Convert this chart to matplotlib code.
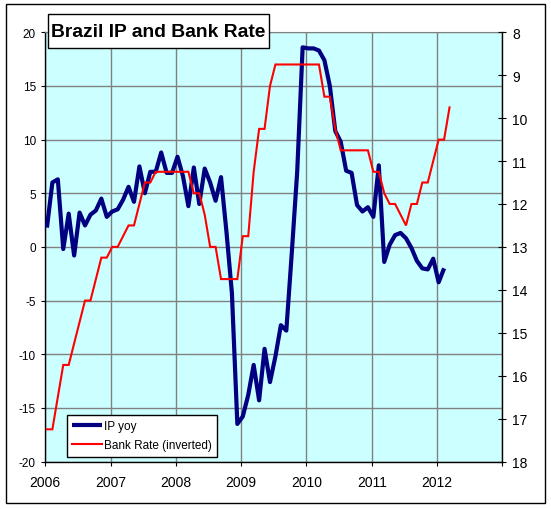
import matplotlib
matplotlib.use('Agg')
import matplotlib.pyplot as plt
from matplotlib.patches import Rectangle

plt.rcParams['font.family'] = ['Liberation Sans', 'DejaVu Sans']
plt.rcParams['axes.unicode_minus'] = False

# ---- data (monthly, Jan 2006 onwards) ----
start_year = 2006
ip_yoy = [
    1.8, 6.0, 6.3, -0.2, 3.1, -0.8, 3.2, 2.0, 3.0, 3.4, 4.5, 2.8,          # 2006
    3.3, 3.5, 4.4, 5.6, 4.2, 7.5, 5.0, 7.0, 7.0, 8.8, 6.9, 6.9,            # 2007
    8.4, 6.6, 3.8, 7.4, 4.0, 7.3, 6.0, 4.3, 6.5, 1.4, -4.3, -16.5,         # 2008
    -15.8, -13.8, -11.0, -14.3, -9.5, -12.6, -10.2, -7.3, -7.8, -0.6, 7.0, 18.6,  # 2009
    18.5, 18.5, 18.3, 17.4, 15.0, 10.8, 9.8, 7.1, 6.9, 3.9, 3.3, 3.7,      # 2010
    2.8, 7.6, -1.4, 0.2, 1.1, 1.3, 0.8, -0.1, -1.3, -2.0, -2.1, -1.1,      # 2011
    -3.3, -2.0,                                                            # 2012
]
bank_rate = [
    17.25, 17.25, 16.5, 15.75, 15.75, 15.25, 14.75, 14.25, 14.25, 13.75, 13.25, 13.25,  # 2006
    13.0, 13.0, 12.75, 12.5, 12.5, 12.0, 11.5, 11.5, 11.25, 11.25, 11.25, 11.25,        # 2007
    11.25, 11.25, 11.25, 11.75, 11.75, 12.25, 13.0, 13.0, 13.75, 13.75, 13.75, 13.75,   # 2008
    12.75, 12.75, 11.25, 10.25, 10.25, 9.25, 8.75, 8.75, 8.75, 8.75, 8.75, 8.75,        # 2009
    8.75, 8.75, 8.75, 9.5, 9.5, 10.25, 10.75, 10.75, 10.75, 10.75, 10.75, 10.75,        # 2010
    11.25, 11.25, 11.75, 12.0, 12.0, 12.25, 12.5, 12.0, 12.0, 11.5, 11.5, 11.0,         # 2011
    10.5, 10.5, 9.75,                                                                   # 2012
]
x_ticks = [2006, 2007, 2008, 2009, 2010, 2011, 2012, 2013]
x_tick_labels = ['2006', '2007', '2008', '2009', '2010', '2011', '2012', '']
left_ticks = [-20, -15, -10, -5, 0, 5, 10, 15, 20]
right_ticks = [8, 9, 10, 11, 12, 13, 14, 15, 16, 17, 18]
title = 'Brazil IP and Bank Rate'
series_names = ['IP yoy', 'Bank Rate (inverted)']

ip_x = [start_year + (i + 0.3) / 12 for i in range(len(ip_yoy))]
bank_x = [start_year + (i + 0.3) / 12 for i in range(len(bank_rate))]

W, H = 551, 510
fig = plt.figure(figsize=(W / 100, H / 100), dpi=100)
fig.patch.set_facecolor('white')

# outer chart frame
fig.patches.append(Rectangle((6 / W, 1 - 504 / H), (545 - 6) / W, (504 - 5) / H,
                             transform=fig.transFigure, fill=False,
                             edgecolor='black', linewidth=1.0, zorder=0))

L, R, T, B = 45.3, 502.3, 33.3, 462.5
ax = fig.add_axes([L / W, 1 - B / H, (R - L) / W, (B - T) / H])
ax.set_facecolor('#CCFFFF')
ax.set_xlim(2006, 2013)
ax.set_ylim(-20, 20)
ax.set_xticks(x_ticks)
ax.set_xticklabels(x_tick_labels)
ax.set_yticks(left_ticks)
ax.grid(True, color='#808080', linewidth=1.0)
ax.set_axisbelow(True)
ax.tick_params(axis='y', direction='out', length=3.2, width=0.8, pad=3.5,
               labelsize=8.5, colors='black')
ax.tick_params(axis='x', direction='out', length=2.6, width=0.8, pad=7,
               labelsize=10, colors='black')
for s in ['left', 'bottom']:
    ax.spines[s].set_color('black')
    ax.spines[s].set_linewidth(1.0)
ax.spines['top'].set_color('#808080')
ax.spines['right'].set_visible(False)

l1, = ax.plot(ip_x, ip_yoy, color='#000080', linewidth=3.0,
              solid_joinstyle='round', solid_capstyle='butt', zorder=3)

ax2 = ax.twinx()
ax2.set_ylim(18, 8)
ax2.set_yticks(right_ticks)
ax2.tick_params(axis='y', direction='inout', length=6.2, width=0.8, pad=4,
                labelsize=10, colors='black')
ax2.spines['right'].set_color('black')
ax2.spines['right'].set_linewidth(1.0)
for s in ['top', 'left', 'bottom']:
    ax2.spines[s].set_visible(False)
l2, = ax2.plot(bank_x, bank_rate, color='#FF0000', linewidth=1.5,
               solid_joinstyle='miter', zorder=3)

# legend
leg = ax2.legend([l1, l2], series_names, loc='upper left',
                 bbox_to_anchor=(67 / W, 1 - 416 / H), bbox_transform=fig.transFigure,
                 borderaxespad=0, frameon=True, fancybox=False, framealpha=1,
                 edgecolor='black', facecolor='white', fontsize=8.5,
                 handlelength=2.5, handletextpad=0.2, labelspacing=0.6,
                 borderpad=0.45)
leg.get_frame().set_linewidth(1.0)

# title box
tx0, tx1, ty0, ty1 = 47.7, 269.3, 15, 49.3
fig.patches.append(Rectangle((tx0 / W, 1 - ty1 / H), (tx1 - tx0) / W, (ty1 - ty0) / H,
                             transform=fig.transFigure, facecolor='white',
                             edgecolor='black', linewidth=1.0, zorder=5))
fig.text((tx0 + tx1) / 2 / W, 1 - (ty0 + ty1) / 2 / H, title,
         ha='center', va='center', fontsize=13.9, fontweight='bold', zorder=6)

fig.savefig('out.png', dpi=100, facecolor='white')
